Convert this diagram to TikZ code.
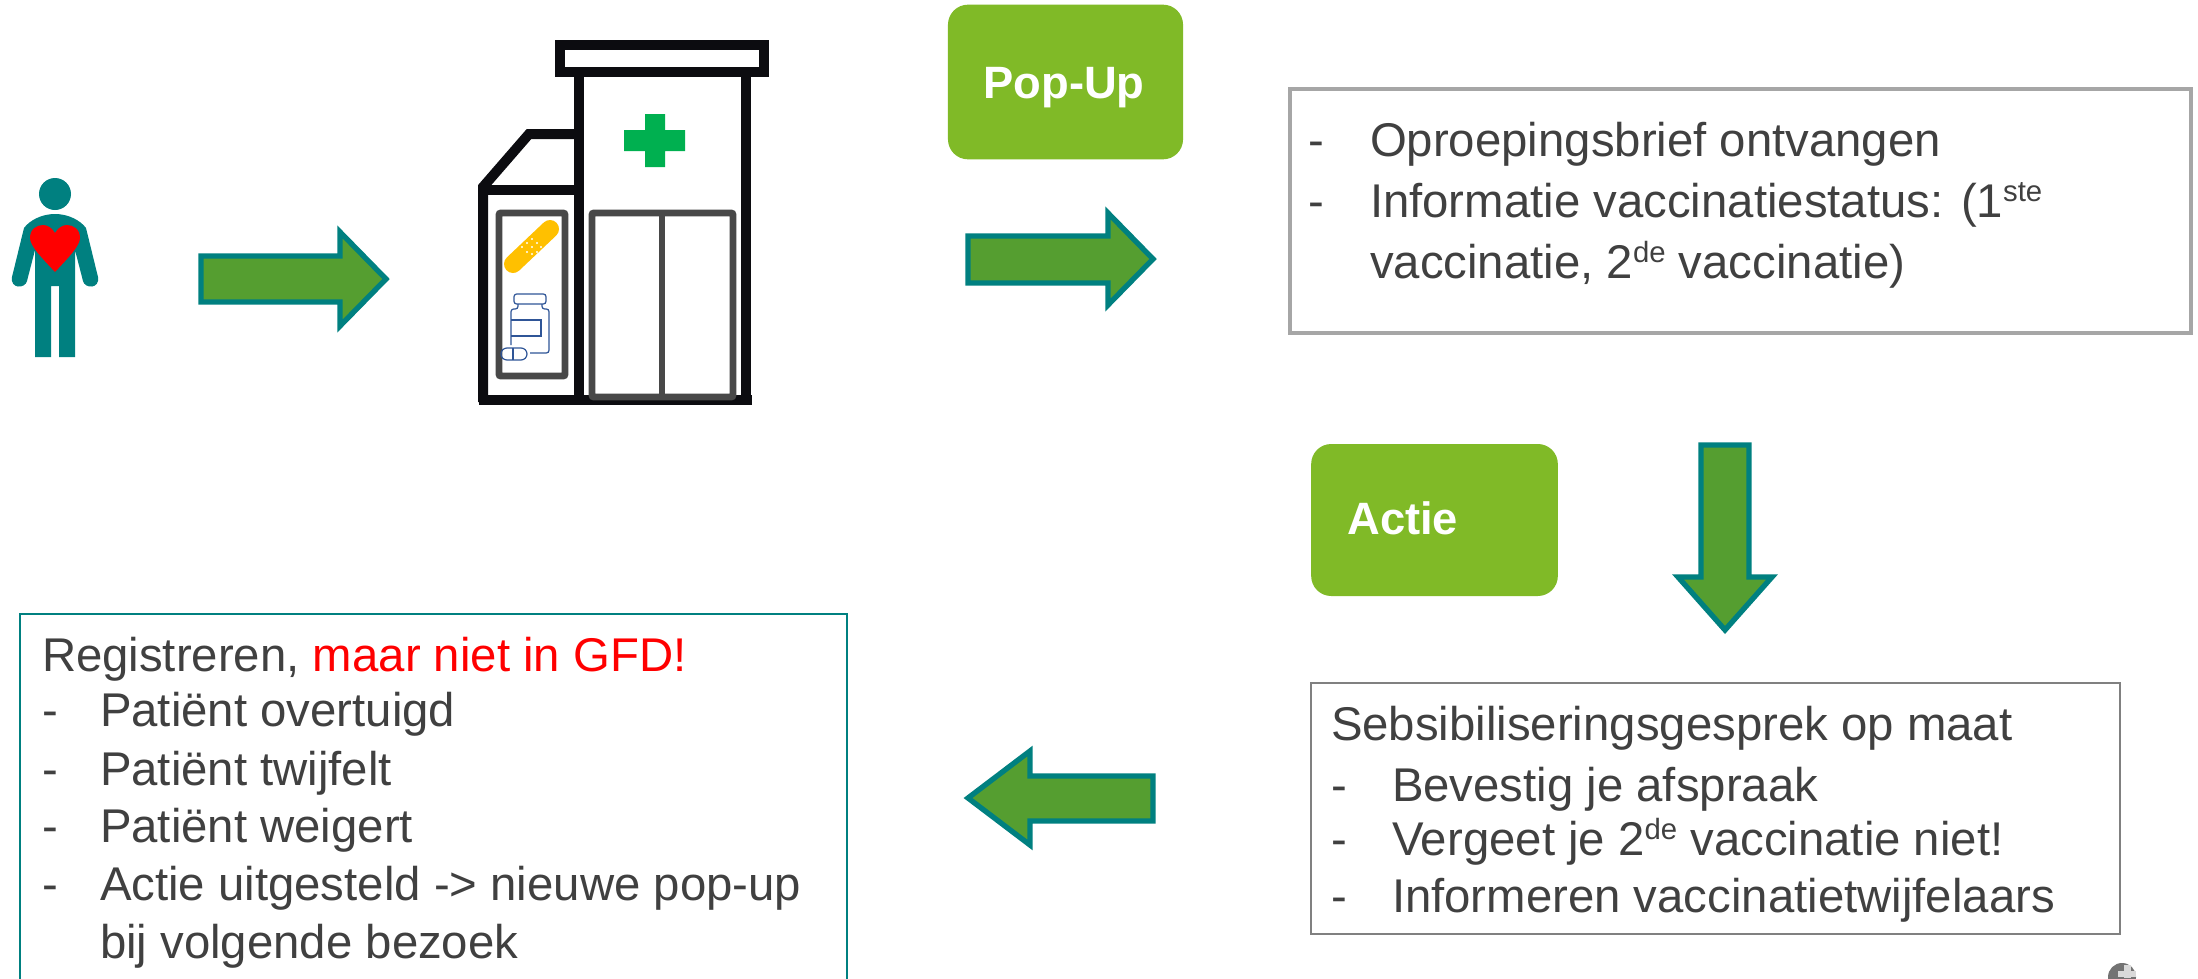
\documentclass[tikz,border=0pt]{standalone}
\usepackage{fontspec}
\setmainfont{Liberation Sans}
\definecolor{txt}{HTML}{404040}
\definecolor{tealc}{HTML}{008080}
\definecolor{arrowg}{HTML}{559E30}
\definecolor{lime}{HTML}{80BA27}
\definecolor{blk}{HTML}{0C0C10}
\definecolor{dgray}{HTML}{484848}
\definecolor{bluec}{HTML}{2F5597}
\newcommand{\suptxt}[1]{\raisebox{0.62ex}{\fontsize{22}{22}\selectfont #1}}
\tikzset{
  pic lines/.style={x=0.75pt,y=-0.75pt},
  tx/.style={anchor=base west,inner sep=0pt,outer sep=0pt,text=txt,font=\fontsize{35.5}{40}\selectfont},
  fatarrow/.style={draw=tealc,fill=arrowg,line width=4pt,miter limit=10},
  badge/.style={fill=lime,rounded corners=15pt},
  wall/.style={draw=blk,line width=7.5pt},
  inner/.style={draw=dgray,line width=5.2pt,rounded corners=1.5pt},
  bluep/.style={draw=bluec,line width=0.9pt,rounded corners=2pt}
}
\begin{document}
\begin{tikzpicture}[x=0.75pt,y=-0.75pt]
\useasboundingbox (0,0) rectangle (2198,978);
\fill[white] (0,0) rectangle (2198,978);
% person
\fill[tealc] (55,194) circle[x radius=16,y radius=16];
\fill[tealc] (35,357) -- (35,250) -- (27,281) .. controls (25,289) and (10,289) .. (12,277) -- (24,228) .. controls (30,220) and (42,214) .. (55,214) .. controls (68,214) and (80,220) .. (86,228) -- (98,277) .. controls (100,289) and (85,289) .. (83,281) -- (75,250) -- (75,357) -- (59,357) -- (59,286) -- (51,286) -- (51,357) -- cycle;
\fill[red] (55,272) .. controls (42,258) and (30,246) .. (30,238) .. controls (30,229) and (37,225) .. (43,225) .. controls (48,225) and (52,228) .. (55,233) .. controls (58,228) and (62,225) .. (67,225) .. controls (73,225) and (80,229) .. (80,238) .. controls (80,246) and (68,258) .. (55,272) -- cycle;
% arrows
\path[fatarrow] (201,256) -- (340,256) -- (340,232) -- (386,279) -- (340,326) -- (340,302) -- (201,302) -- cycle;
\path[fatarrow] (968,236) -- (1108,236) -- (1108,213) -- (1153,259) -- (1108,305) -- (1108,283) -- (968,283) -- cycle;
\path[fatarrow] (1701,445) -- (1749,445) -- (1749,577) -- (1772,577) -- (1725,630) -- (1678,577) -- (1701,577) -- cycle;
\path[fatarrow] (1153,776) -- (1030,776) -- (1030,751) -- (968,798) -- (1030,845) -- (1030,821) -- (1153,821) -- cycle;
% building
\draw[wall] (579,76) -- (579,402);
\draw[wall] (746,76) -- (746,402);
\draw[wall] (483,402) -- (483,187) -- (529,134) -- (579,134);
\draw[wall] (483,190) -- (579,190);
\draw[wall] (479,400) -- (752,400);
\draw[draw=blk,line width=7.5pt] (560,45) rectangle (764,72);
\draw[inner] (499,213) rectangle (565,376);
\draw[inner] (592,213) rectangle (733,397);
\draw[draw=dgray,line width=5.2pt] (662,213) -- (662,397);
\fill[green!60!black,fill=green!50!black] (0,0) -- (0,0);
\fill[fill={rgb,255:red,0;green,176;blue,80}] (645,114) -- (665,114) -- (665,130) -- (685,130) -- (685,151) -- (665,151) -- (665,167) -- (645,167) -- (645,151) -- (624,151) -- (624,130) -- (645,130) -- cycle;
% plaster
\draw[draw={rgb,255:red,255;green,192;blue,0},line width=13.5pt,line cap=round] (513,264) -- (550,229);
\foreach \a/\b in {532/239,527/243,537/243,522/247,532/247,541/247,527/252,537/252,532/254}{\fill[white] (\a,\b) circle[radius=1.1];}
% bottle
\draw[bluep] (514,294) rectangle (546,304);
\draw[bluep] (511,345) -- (511,309) -- (518,309) -- (518,304);
\draw[bluep] (542,304) -- (542,309) -- (549,309) -- (549,353) -- (530,353);
\draw[draw=bluec,line width=0.9pt] (511,320) -- (541,320) -- (541,336) -- (511,336);
\draw[draw=bluec,line width=0.9pt,rounded corners=4.5pt] (501,348) rectangle (527,360);
\draw[draw=bluec,line width=0.9pt] (513,348) -- (513,360);
% badges
\node[badge,minimum width=176.3pt,minimum height=116pt,inner sep=0pt,anchor=center] (popup) at (1065.5,82) {};
\node[anchor=center,inner sep=0pt,text=white,font=\fontsize{34}{40}\bfseries\selectfont] (popupt) at (1064,88) {Pop-Up};
\node[badge,minimum width=185pt,minimum height=114pt,inner sep=0pt,anchor=center] (actie) at (1434.5,520) {};
\node[anchor=base west,inner sep=0pt,text=white,font=\fontsize{34}{40}\bfseries\selectfont] (actiet) at (1347,534) {Actie};
% boxes
\draw[draw=black!35,line width=3.4pt] (1290,89) rectangle (2191,333);
\draw[draw=black!50,line width=1.1pt] (1311,683) rectangle (2120,934);
\draw[draw=tealc,line width=1.1pt] (20,614) rectangle (847,990);
% box 1 text
\node[tx] (a1) at (1308,156) {-};
\node[tx] (a2) at (1370,156) {Oproepingsbrief ontvangen};
\node[tx] (a3) at (1308,217) {-};
\node[tx] (a4) at (1370,217) {Informatie vaccinatiestatus: (1\suptxt{ste}};
\node[tx] (a5) at (1370,278) {vaccinatie, 2\suptxt{de} vaccinatie)};
% box 2 text
\node[tx] (b1) at (1331,740) {Sebsibiliseringsgesprek op maat};
\node[tx] (b2) at (1331,801) {-};
\node[tx] (b3) at (1392,801) {Bevestig je afspraak};
\node[tx] (b4) at (1331,855) {-};
\node[tx] (b5) at (1392,855) {Vergeet je 2\suptxt{de} vaccinatie niet!};
\node[tx] (b6) at (1331,912) {-};
\node[tx] (b7) at (1392,912) {Informeren vaccinatietwijfelaars};
% box 3 text
\node[tx] (c1) at (42,671) {Registreren, \textcolor{red}{maar niet in GFD!}};
\node[tx] (c2) at (42,726) {-};
\node[tx] (c3) at (100,726) {Patiënt overtuigd};
\node[tx] (c4) at (42,785) {-};
\node[tx] (c5) at (100,785) {Patiënt twijfelt};
\node[tx] (c6) at (42,842) {-};
\node[tx] (c7) at (100,842) {Patiënt weigert};
\node[tx] (c8) at (42,900) {-};
\node[tx] (c9) at (100,900) {Actie uitgesteld -> nieuwe pop-up};
\node[tx] (c10) at (100,958) {bij volgende bezoek};
% globe
\begin{scope}
\clip (2100,950) rectangle (2198,978);
\fill[black!55] (2122,977) circle[radius=14];
\fill[black!15] (2124,965) rectangle (2131,978);
\fill[black!15] (2118,971) rectangle (2136,977);
\end{scope}
\end{tikzpicture}
\end{document}
